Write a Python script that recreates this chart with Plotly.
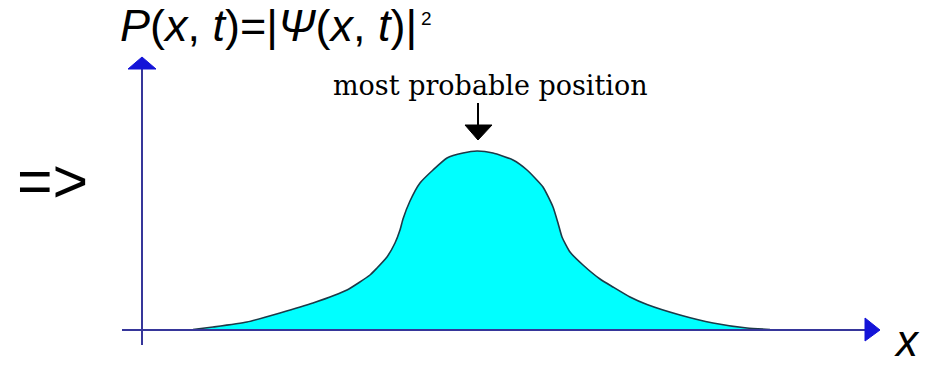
import plotly.graph_objects as go

# ---- data (position along x, probability height) ----
position = [193, 213, 247, 280, 313, 347, 370, 377, 387, 395, 400, 403, 410, 420, 433, 447, 463, 477,
            493, 513, 527, 543, 553, 558, 562, 570, 583, 600, 613, 630, 647, 680, 713, 747, 770]
probability = [0, 2.5, 7.5, 16.5, 26.5, 39.5, 54.5, 61.5, 72.5, 86.5, 99.5, 110.5, 128.5, 146.5, 159.5, 171.5, 176.5, 178.5,
               176.5, 169.5, 159.5, 142.5, 122.5, 106.5, 92.5, 77.5, 64.5, 50.5, 42.5, 32.5, 25, 14.5, 6.5, 1.5, 0]
peak_label = "most probable position"
y_label = "<i>P</i>(<i>x</i>, <i>t</i>)=|<i>Ψ</i>(<i>x</i>, <i>t</i>)|"
y_label_exp = "2"
x_label = "<i>x</i>"
left_label = "=>"

W, H = 928, 366
BASE = 329.5       # pixel row of the x axis


def Y(py):
    return BASE - py


fig = go.Figure()
fig.add_trace(go.Scatter(
    x=position, y=probability, mode="lines", fill="tozeroy",
    fillcolor="#00FFFF", line=dict(color="#1c3a48", width=1.6, shape="spline", smoothing=0.5),
    hoverinfo="skip", showlegend=False))

axis_col = "#36369a"
head_col = "#1414d8"
shapes = [
    dict(type="line", x0=122, x1=868, y0=Y(330), y1=Y(330), line=dict(color=axis_col, width=2), layer="above"),
    dict(type="line", x0=142, x1=142, y0=Y(345), y1=Y(66), line=dict(color=axis_col, width=2), layer="above"),
    dict(type="path", path=f"M 865 {Y(318)} L 880 {Y(330)} L 865 {Y(341)} Z",
         fillcolor=head_col, line=dict(color=head_col, width=1), layer="above"),
    dict(type="path", path=f"M 128 {Y(69)} L 142 {Y(57)} L 156 {Y(69)} Z",
         fillcolor=head_col, line=dict(color=head_col, width=1), layer="above"),
    dict(type="line", x0=478, x1=478, y0=Y(103), y1=Y(127), line=dict(color="black", width=2), layer="above"),
    dict(type="path", path=f"M 465 {Y(125)} L 478 {Y(140)} L 492 {Y(125)} Z",
         fillcolor="black", line=dict(color="black", width=1), layer="above"),
]

sans = "Liberation Sans"
annotations = [
    dict(x=118, y=Y(25), text=y_label, xanchor="left", yanchor="middle", showarrow=False,
         font=dict(family=sans, size=45, color="black")),
    dict(x=419, y=Y(18), text=y_label_exp, xanchor="left", yanchor="middle", showarrow=False,
         font=dict(family=sans, size=19, color="black")),
    dict(x=490, y=Y(85), text=peak_label, xanchor="center", yanchor="middle", showarrow=False,
         font=dict(family="DejaVu Serif", size=27, color="black")),
    dict(x=52, y=Y(181), text=left_label, xanchor="center", yanchor="middle", showarrow=False,
         font=dict(family=sans, size=61, color="black")),
    dict(x=907, y=Y(H), text=x_label, xanchor="center", yanchor="bottom", showarrow=False, borderpad=0,
         font=dict(family=sans, size=44, color="black")),
]

fig.update_layout(
    width=W, height=H, margin=dict(l=0, r=0, t=0, b=0),
    paper_bgcolor="white", plot_bgcolor="white",
    xaxis=dict(range=[0, W], visible=False, fixedrange=True),
    yaxis=dict(range=[Y(H), Y(0)], visible=False, fixedrange=True),
    shapes=shapes, annotations=annotations, showlegend=False,
)

fig.write_html("out.html", config={"displayModeBar": False},
               post_script="document.body.style.margin='0';document.body.style.overflow='hidden';")
